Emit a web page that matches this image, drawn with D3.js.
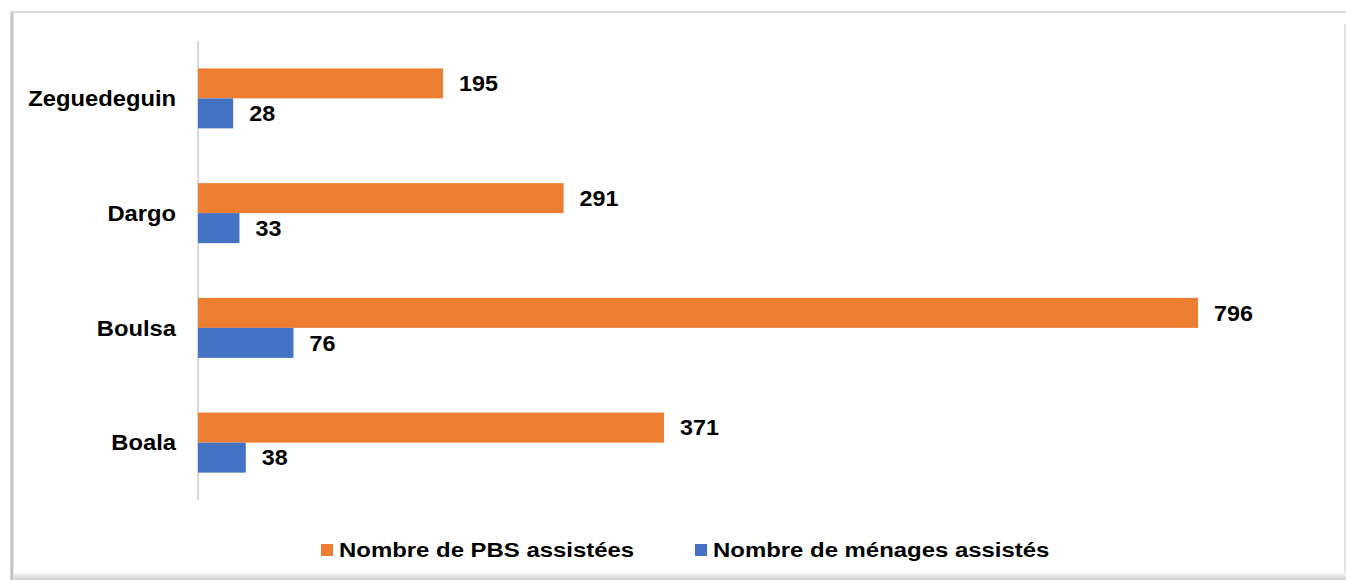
<!DOCTYPE html>
<html>
<head>
<meta charset="utf-8">
<script src="https://cdn.jsdelivr.net/npm/d3@7"></script>
<style>
  html, body { margin: 0; padding: 0; background: #fff; }
  svg { display: block; font-family: "Liberation Sans", Arial, sans-serif; }
</style>
</head>
<body>
<svg id="chart" width="1346" height="580"></svg>
<script>
const categories = ["Zeguedeguin", "Dargo", "Boulsa", "Boala"];
const pbsValues = [195, 291, 796, 371];
const menagesValues = [28, 33, 76, 38];
const seriesNames = ["Nombre de PBS assistées", "Nombre de ménages assistés"];
const colors = ["#ed7d31", "#4472c4"];

const width = 1346, height = 580;
const svg = d3.select("#chart");

// frame with soft shadow
const defs = svg.append("defs");
const lg = defs.append("linearGradient").attr("id", "leftShade").attr("x1", 0).attr("x2", 1);
lg.append("stop").attr("offset", 0).attr("stop-color", "#e6e6e6");
lg.append("stop").attr("offset", 0.5).attr("stop-color", "#b5b5b5");
lg.append("stop").attr("offset", 1).attr("stop-color", "#f2f2f2");
const bg = defs.append("linearGradient").attr("id", "bottomShade").attr("x1", 0).attr("x2", 0).attr("y1", 0).attr("y2", 1);
bg.append("stop").attr("offset", 0).attr("stop-color", "#f7f7f7");
bg.append("stop").attr("offset", 1).attr("stop-color", "#cfcfcf");

svg.append("rect").attr("x", 10).attr("y", 11).attr("width", 1336).attr("height", 2).attr("fill", "#d9d9d9");
svg.append("rect").attr("x", 10).attr("y", 13).attr("width", 4).attr("height", 567).attr("fill", "url(#leftShade)");
svg.append("rect").attr("x", 14).attr("y", 573).attr("width", 1332).attr("height", 7).attr("fill", "url(#bottomShade)");
svg.append("rect").attr("x", 1344).attr("y", 24).attr("width", 2).attr("height", 549).attr("fill", "#e3e3e3");

const x = d3.scaleLinear().domain([0, 796]).range([198, 1198]);
const y = d3.scaleBand().domain(categories).range([41, 500]);
const barH = 30;

// axis line
svg.append("line")
  .attr("x1", x(0)).attr("x2", x(0))
  .attr("y1", y.range()[0]).attr("y2", y.range()[1])
  .attr("stroke", "#d9d9d9").attr("stroke-width", 2);

const rows = categories.map((c, i) => ({ c, vals: [pbsValues[i], menagesValues[i]] }));

const g = svg.append("g").selectAll("g").data(rows).enter().append("g");

g.selectAll("rect")
  .data(d => d.vals.map((v, k) => ({ c: d.c, v, k })))
  .enter().append("rect")
  .attr("x", x(0))
  .attr("y", d => y(d.c) + y.bandwidth() / 2 - barH + d.k * barH)
  .attr("width", d => x(d.v) - x(0))
  .attr("height", barH)
  .attr("fill", d => colors[d.k]);

// labels are a bit wider than the font, stretch them horizontally
g.selectAll("text.val")
  .data(d => d.vals.map((v, k) => ({ c: d.c, v, k })))
  .enter().append("text")
  .attr("class", "val")
  .attr("transform", d => `translate(${x(d.v) + 16}, ${y(d.c) + y.bandwidth() / 2 - barH + d.k * barH + barH / 2}) scale(1.06, 1)`)
  .attr("dy", "0.35em")
  .attr("font-size", 22).attr("font-weight", "bold").attr("fill", "#000")
  .text(d => d.v);

// category labels
svg.append("g").selectAll("text")
  .data(categories).enter().append("text")
  .attr("transform", d => `translate(176, ${y(d) + y.bandwidth() / 2}) scale(1.08, 1)`)
  .attr("dy", "0.35em")
  .attr("text-anchor", "end")
  .attr("font-size", 22).attr("font-weight", "bold").attr("fill", "#000")
  .text(d => d);

// legend
const legendX = [321, 695];
const lgd = svg.append("g").selectAll("g").data(seriesNames).enter().append("g")
  .attr("transform", (d, i) => `translate(${legendX[i]}, 550)`);
lgd.append("rect").attr("x", 0).attr("y", -6).attr("width", 12).attr("height", 12)
  .attr("fill", (d, i) => colors[i]);
lgd.append("text")
  .attr("transform", "translate(18, 0) scale(1.14, 1)")
  .attr("dy", "0.35em")
  .attr("font-size", 21).attr("font-weight", "bold").attr("fill", "#000")
  .text(d => d);
</script>
</body>
</html>
